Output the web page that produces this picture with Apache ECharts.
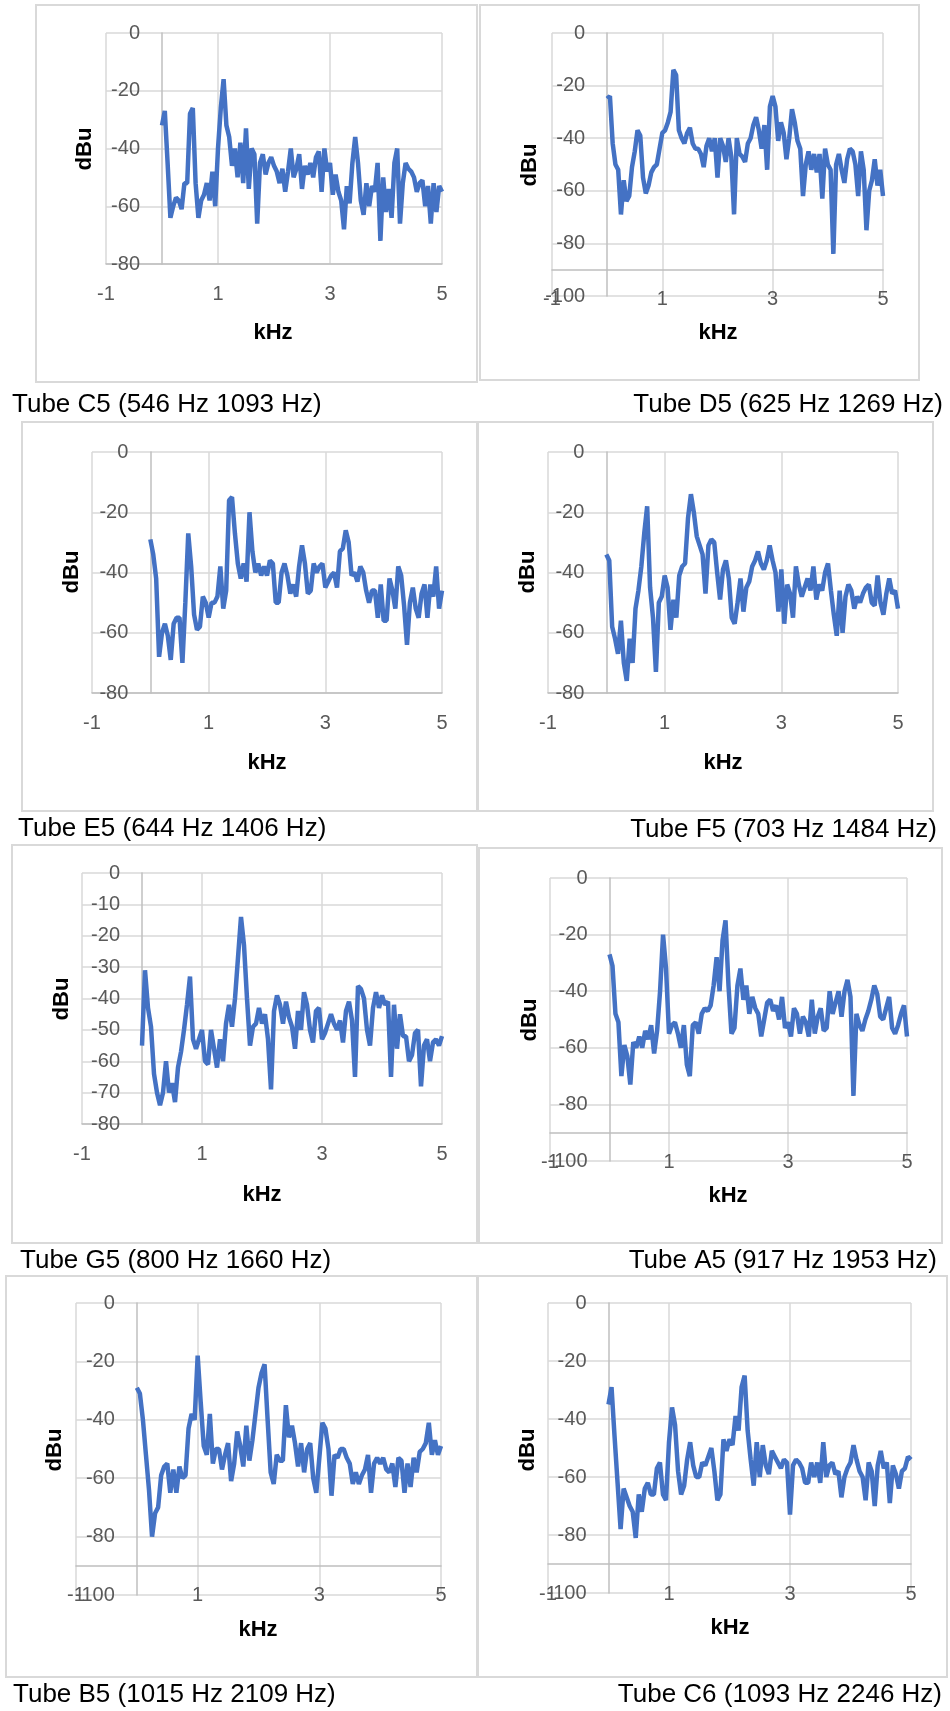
<!DOCTYPE html>
<html>
<head>
<meta charset="utf-8">
<script src="https://cdn.jsdelivr.net/npm/echarts@6/dist/echarts.min.js"></script>
<style>
  html, body { margin: 0; padding: 0; background: #fff; }
  #chart { width: 950px; height: 1711px; }
</style>
</head>
<body>
<div id="chart"></div>
<script>
// frequency bins (kHz), shared by all spectra
const freqKHz = [
  0, 0.05, 0.1, 0.15, 0.2, 0.25, 0.3, 0.35, 0.4, 0.45,
  0.5, 0.55, 0.6, 0.65, 0.7, 0.75, 0.8, 0.85, 0.9, 0.95,
  1, 1.05, 1.1, 1.15, 1.2, 1.25, 1.3, 1.35, 1.4, 1.45,
  1.5, 1.55, 1.6, 1.65, 1.7, 1.75, 1.8, 1.85, 1.9, 1.95,
  2, 2.05, 2.1, 2.15, 2.2, 2.25, 2.3, 2.35, 2.4, 2.45,
  2.5, 2.55, 2.6, 2.65, 2.7, 2.75, 2.8, 2.85, 2.9, 2.95,
  3, 3.05, 3.1, 3.15, 3.2, 3.25, 3.3, 3.35, 3.4, 3.45,
  3.5, 3.55, 3.6, 3.65, 3.7, 3.75, 3.8, 3.85, 3.9, 3.95,
  4, 4.05, 4.1, 4.15, 4.2, 4.25, 4.3, 4.35, 4.4, 4.45,
  4.5, 4.55, 4.6, 4.65, 4.7, 4.75, 4.8, 4.85, 4.9, 4.95,
  5
]

// levels in dBu
const levelC5 = [
  -32, -27, -45, -64, -60, -57, -58, -61, -52, -52,
  -28, -26, -52, -64, -58, -56, -52, -58, -48, -60,
  -40, -26, -16, -32, -36, -46, -40, -50, -38, -52,
  -33, -54, -40, -42, -66, -45, -42, -49, -45, -43,
  -46, -48, -52, -47, -55, -48, -40, -50, -47, -42,
  -54, -46, -49, -45, -50, -43, -41, -55, -40, -48,
  -45, -56, -49, -55, -58, -68, -53, -59, -45, -36,
  -45, -58, -63, -52, -60, -53, -55, -45, -72, -50,
  -62, -54, -64, -45, -40, -66, -52, -45, -47, -48,
  -50, -55, -52, -51, -60, -53, -66, -52, -62, -53,
  -55
]
const levelD5 = [
  -25, -24, -42, -50, -52, -69, -56, -64, -62, -51,
  -45, -37, -39, -55, -61, -58, -53, -51, -50, -44,
  -38, -37, -34, -30, -14, -16, -37, -40, -42, -38,
  -36, -42, -44, -44, -46, -51, -43, -40, -45, -40,
  -55, -40, -43, -49, -40, -47, -69, -40, -46, -47,
  -49, -42, -40, -35, -32, -37, -44, -35, -52, -28,
  -24, -28, -41, -34, -38, -48, -40, -29, -34, -41,
  -44, -62, -50, -45, -52, -46, -53, -46, -63, -44,
  -50, -52, -84, -50, -46, -52, -57, -48, -44, -45,
  -50, -62, -45, -52, -75, -60, -56, -48, -58, -52,
  -62
]
const levelE5 = [
  -29, -34, -42, -68, -60, -57, -61, -69, -57, -55,
  -55, -70, -50, -27, -38, -54, -59, -58, -48, -50,
  -55, -50, -50, -48, -38, -52, -46, -16, -15, -27,
  -37, -42, -37, -43, -20, -33, -40, -37, -41, -38,
  -41, -36, -37, -50, -50, -40, -37, -41, -47, -44,
  -48, -38, -31, -37, -47, -46, -37, -40, -38, -37,
  -45, -43, -41, -40, -45, -33, -32, -26, -30, -41,
  -40, -43, -38, -40, -46, -50, -46, -46, -55, -44,
  -56, -56, -42, -46, -52, -38, -41, -51, -64, -50,
  -45, -52, -55, -47, -44, -55, -44, -48, -38, -52,
  -46
]
const levelF5 = [
  -34, -36, -58, -62, -67, -56, -70, -76, -62, -70,
  -52, -46, -38, -27, -18, -45, -55, -73, -50, -48,
  -41, -45, -59, -49, -55, -41, -38, -37, -22, -14,
  -20, -28, -31, -34, -47, -31, -29, -30, -40, -49,
  -39, -36, -42, -55, -57, -50, -42, -53, -45, -43,
  -38, -36, -33, -37, -39, -36, -31, -36, -40, -53,
  -39, -57, -44, -47, -55, -38, -44, -48, -45, -42,
  -46, -38, -49, -44, -46, -40, -37, -46, -54, -61,
  -46, -60, -48, -44, -46, -52, -48, -50, -47, -45,
  -44, -50, -51, -41, -50, -54, -47, -42, -47, -46,
  -52
]
const levelG5 = [
  -55, -31, -43, -49, -64, -70, -74, -70, -60, -70,
  -67, -73, -62, -57, -50, -42, -33, -53, -56, -53,
  -50, -60, -61, -50, -56, -62, -53, -60, -48, -42,
  -49, -40, -27, -14, -23, -40, -55, -49, -48, -43,
  -48, -45, -53, -69, -44, -39, -42, -48, -41, -46,
  -49, -56, -44, -50, -38, -42, -50, -54, -44, -43,
  -53, -51, -48, -45, -48, -50, -47, -54, -44, -41,
  -47, -65, -36, -37, -40, -50, -55, -43, -38, -43,
  -39, -42, -41, -65, -42, -56, -45, -52, -52, -60,
  -58, -51, -50, -68, -55, -53, -60, -54, -53, -55,
  -52
]
const levelA5 = [
  -27, -31, -48, -51, -70, -59, -63, -73, -58, -60,
  -56, -60, -54, -57, -52, -62, -54, -40, -20, -32,
  -55, -52, -51, -55, -60, -52, -66, -70, -52, -51,
  -55, -48, -46, -47, -45, -38, -28, -40, -22, -15,
  -38, -55, -53, -38, -32, -43, -38, -48, -42, -46,
  -48, -56, -50, -44, -43, -47, -45, -50, -42, -53,
  -51, -56, -46, -48, -55, -49, -51, -56, -43, -55,
  -49, -46, -54, -53, -40, -48, -44, -40, -49, -40,
  -36, -42, -77, -48, -52, -54, -50, -47, -43, -38,
  -41, -49, -50, -46, -42, -53, -55, -52, -48, -45,
  -56
]
const levelB5 = [
  -29, -31, -40, -52, -64, -80, -72, -70, -59, -56,
  -55, -65, -57, -65, -56, -60, -59, -43, -38, -40,
  -18, -34, -49, -52, -38, -55, -50, -50, -57, -52,
  -48, -61, -55, -44, -49, -56, -42, -54, -47, -38,
  -29, -24, -21, -40, -58, -62, -52, -54, -54, -35,
  -46, -42, -48, -56, -48, -58, -50, -48, -60, -65,
  -53, -41, -43, -50, -66, -52, -53, -50, -50, -53,
  -55, -62, -58, -62, -59, -57, -52, -65, -55, -53,
  -55, -53, -57, -58, -55, -63, -53, -54, -65, -55,
  -63, -53, -58, -51, -50, -48, -41, -52, -47, -52,
  -49
]
const levelC6 = [
  -35, -29, -46, -62, -78, -64, -67, -70, -72, -81,
  -66, -72, -64, -62, -66, -66, -57, -55, -66, -68,
  -48, -36, -42, -58, -66, -63, -54, -48, -56, -60,
  -60, -55, -56, -53, -50, -58, -68, -66, -47, -51,
  -47, -49, -39, -44, -29, -25, -44, -54, -63, -48,
  -60, -49, -56, -59, -51, -53, -55, -57, -54, -55,
  -73, -56, -54, -55, -57, -62, -62, -55, -60, -55,
  -62, -48, -60, -56, -55, -59, -58, -67, -60, -57,
  -55, -49, -54, -58, -60, -68, -55, -58, -70, -56,
  -51, -57, -55, -69, -56, -59, -64, -58, -57, -53,
  -54
]

const captions = [
  'Tube C5 (546 Hz 1093 Hz)', 'Tube D5 (625 Hz 1269 Hz)',
  'Tube E5 (644 Hz 1406 Hz)', 'Tube F5 (703 Hz 1484 Hz)',
  'Tube G5 (800 Hz 1660 Hz)', 'Tube A5 (917 Hz 1953 Hz)',
  'Tube B5 (1015 Hz 2109 Hz)', 'Tube C6 (1093 Hz 2246 Hz)'
]
const xTicks = [-1, 1, 3, 5]

// panel layout: grid [left, top, width, height], box [x, y, w, h]
const panels = [
  { levels: levelC5, yMin: -80, yStep: 20, crossAt: -80, grid: [106, 33, 336, 231], box: [36, 5, 441, 377], xTitle: [273, 333], yTitle: [85, 149], cap: [12, 405, 'left'] },
  { levels: levelD5, yMin: -100, yStep: 20, crossAt: -90, grid: [552, 33, 331, 263], box: [480, 5, 439, 375], xTitle: [718, 333], yTitle: [530, 165], cap: [943, 405, 'right'] },
  { levels: levelE5, yMin: -80, yStep: 20, crossAt: -80, grid: [92, 452, 350, 241], box: [22, 422, 455, 389], xTitle: [267, 763], yTitle: [72, 572], cap: [18, 829, 'left'] },
  { levels: levelF5, yMin: -80, yStep: 20, crossAt: -80, grid: [548, 452, 350, 241], box: [478, 422, 455, 389], xTitle: [723, 763], yTitle: [528, 572], cap: [937, 830, 'right'] },
  { levels: levelG5, yMin: -80, yStep: 10, crossAt: -80, grid: [82, 873, 360, 251], box: [12, 845, 465, 398], xTitle: [262, 1195], yTitle: [62, 999], cap: [20, 1261, 'left'] },
  { levels: levelA5, yMin: -100, yStep: 20, crossAt: -90, grid: [550, 878, 357, 283], box: [479, 848, 463, 395], xTitle: [728, 1196], yTitle: [530, 1020], cap: [937, 1261, 'right'] },
  { levels: levelB5, yMin: -100, yStep: 20, crossAt: -90, grid: [76, 1303, 365, 292], box: [6, 1276, 471, 401], xTitle: [258, 1630], yTitle: [55, 1450], cap: [13, 1695, 'left'] },
  { levels: levelC6, yMin: -100, yStep: 20, crossAt: -90, grid: [548, 1303, 363, 290], box: [478, 1276, 469, 401], xTitle: [730, 1628], yTitle: [528, 1450], cap: [942, 1695, 'right'] }
]

const tickFont = { color: '#595959', fontSize: 20, fontFamily: 'Liberation Sans' }
const gridLine = { color: '#d9d9d9', width: 1.5 }
const axisLine = { color: '#bfbfbf', width: 1.5 }

const chart = echarts.init(document.getElementById('chart'))

const grids = []
const xAxes = []
const yAxes = []
const series = []
const graphics = []

panels.forEach((p, i) => {
  const [left, top, width, height] = p.grid
  const xMin = xTicks[0]
  const xMax = xTicks[xTicks.length - 1]
  grids.push({ left, top, width, height, containLabel: false })
  xAxes.push({
    type: 'value',
    gridIndex: i,
    min: xMin,
    max: xMax,
    interval: 2,
    // horizontal axis crosses the value axis at crossAt
    offset: -height * (p.crossAt - p.yMin) / (0 - p.yMin),
    axisLine: { show: true, onZero: false, lineStyle: axisLine },
    axisTick: { show: false },
    axisLabel: { ...tickFont, margin: 20 },
    splitLine: { show: true, lineStyle: gridLine }
  })
  yAxes.push({
    type: 'value',
    gridIndex: i,
    min: p.yMin,
    max: 0,
    interval: p.yStep,
    // vertical axis (line + labels) sits at 0 kHz
    offset: -width * (0 - xMin) / (xMax - xMin),
    axisLine: { show: true, onZero: false, lineStyle: axisLine },
    axisTick: { show: false },
    axisLabel: { ...tickFont, margin: 22 },
    splitLine: { show: true, lineStyle: gridLine }
  })
  series.push({
    type: 'line',
    xAxisIndex: i,
    yAxisIndex: i,
    data: freqKHz.map((f, k) => [f, p.levels[k]]),
    showSymbol: false,
    symbol: 'none',
    lineStyle: { color: '#4472C4', width: 4.5 },
    z: 5
  })

  const [bx, by, bw, bh] = p.box
  graphics.push({
    type: 'rect',
    silent: true,
    z: -10,
    shape: { x: bx, y: by, width: bw, height: bh },
    style: { fill: 'none', stroke: '#d9d9d9', lineWidth: 2 }
  })
  graphics.push({
    type: 'text',
    silent: true,
    x: p.xTitle[0],
    y: p.xTitle[1],
    style: { text: 'kHz', align: 'center', verticalAlign: 'middle', fill: '#000', font: 'bold 22px "Liberation Sans"' }
  })
  graphics.push({
    type: 'text',
    silent: true,
    x: p.yTitle[0],
    y: p.yTitle[1],
    rotation: Math.PI / 2,
    style: { text: 'dBu', align: 'center', verticalAlign: 'middle', fill: '#000', font: 'bold 22px "Liberation Sans"' }
  })
  graphics.push({
    type: 'text',
    silent: true,
    x: p.cap[0],
    y: p.cap[1],
    style: { text: captions[i], align: p.cap[2], verticalAlign: 'middle', fill: '#000', font: '26px "Liberation Sans"' }
  })
})

chart.setOption({
  backgroundColor: '#fff',
  animation: false,
  grid: grids,
  xAxis: xAxes,
  yAxis: yAxes,
  series,
  graphic: graphics
})
</script>
</body>
</html>
